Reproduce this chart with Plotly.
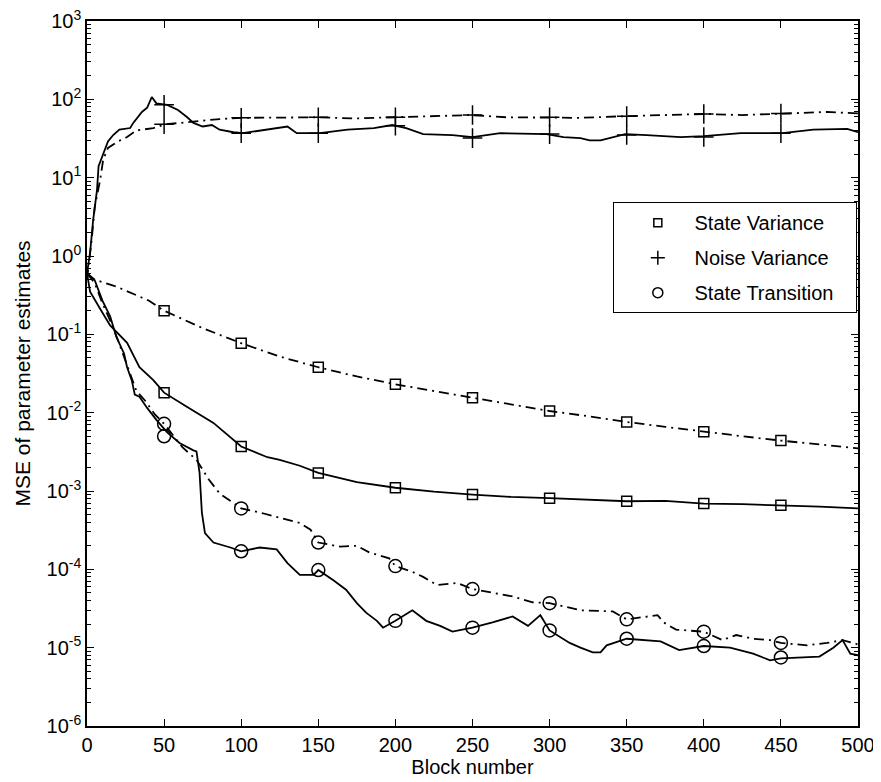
import plotly.graph_objects as go

# ---------------- data ----------------
# Noise variance, solid curve
nv_solid_x = [0, 2, 4, 6.5, 7.5, 10.5, 13.6, 17, 21, 28, 30, 35.6, 39, 42, 45, 52, 59, 65, 69, 75,
              81, 86, 95, 101, 117, 125, 130, 136, 151, 169, 186, 198, 207, 218, 237, 250, 268,
              298, 309, 320, 326, 333, 349, 363, 385, 400, 424, 451, 471, 493, 500]
nv_solid_y = [0.6, 1.1, 2.9, 7, 14, 20, 29, 35, 41, 43, 50, 69, 78, 107, 89, 85, 73, 59, 50, 45,
              47, 41, 38, 37, 41, 44, 45, 37, 37, 41, 43, 47, 43, 36, 35, 33, 37,
              36, 33, 32, 30, 30, 36, 35, 33, 34, 37, 37, 41, 42, 38]
# Noise variance, dash-dot curve
nv_dash_x = [0, 3, 5, 8.5, 10.5, 13.6, 20, 26, 32, 43, 51, 69, 86, 100, 125, 151, 173, 200, 227,
             249, 272, 299, 320, 349, 374, 400, 425, 450, 480, 500]
nv_dash_y = [0.5, 1.6, 4.2, 9.3, 17, 24, 29, 33, 40, 43, 48, 52, 56, 58, 58, 59, 57, 59, 61,
             63, 59, 59, 58, 61, 63, 65, 63, 66, 69, 66]

# State variance, dash-dot curve
sv_dash_x = [0, 5, 20, 40, 50, 75, 100, 125, 150, 175, 200, 225, 250, 275, 300, 325, 350, 375,
             400, 425, 450, 475, 500]
sv_dash_y = [0.6, 0.5, 0.4, 0.27, 0.2, 0.12, 0.077, 0.052, 0.038, 0.029, 0.023, 0.019, 0.0155,
             0.0127, 0.0105, 0.009, 0.0076, 0.0066, 0.0057, 0.005, 0.0044, 0.0039, 0.0035]
# State variance, solid curve
sv_solid_x = [0, 2, 8, 15, 26, 34, 43, 50, 65, 82, 100, 117, 125, 138, 150, 175, 200, 225, 250,
              275, 300, 325, 350, 375, 400, 425, 450, 475, 500]
sv_solid_y = [0.6, 0.35, 0.22, 0.13, 0.078, 0.038, 0.026, 0.018, 0.0118, 0.0074, 0.0037, 0.0027,
              0.0025, 0.0021, 0.0017, 0.0013, 0.0011, 0.00098, 0.0009, 0.00084, 0.00081,
              0.00077, 0.00074, 0.00075, 0.00069, 0.00068, 0.00066, 0.00063, 0.0006]

# State transition, solid curve
st_solid_x = [0, 5, 10, 15, 19, 24, 26, 29, 31, 34, 39, 45, 52, 60, 69, 71, 73, 74.5, 76.5, 82,
              93, 100, 112, 123, 130, 138, 147, 150, 160, 168, 175, 181, 188, 192, 200, 211, 220,
              229, 237, 250, 263, 276, 286, 294, 300, 313, 320, 328, 333, 337, 350, 372, 384,
              400, 417, 432, 443, 450, 475, 484, 490, 495, 500]
st_solid_y = [0.6, 0.49, 0.27, 0.17, 0.093, 0.057, 0.038, 0.026, 0.017, 0.016, 0.0115, 0.0081,
              0.0056, 0.0041, 0.0033, 0.0032, 0.0017, 0.00053, 0.00029, 0.00022, 0.00019,
              0.00017, 0.00019, 0.00018, 0.00012, 8.5e-5, 8.5e-5, 9.8e-5, 7.2e-5, 5.5e-5,
              3.7e-5, 2.8e-5, 2.2e-5, 1.8e-5, 2.2e-5, 3e-5, 2.2e-5, 1.9e-5, 1.6e-5, 1.8e-5,
              2.1e-5, 2.5e-5, 1.9e-5, 2.6e-5, 1.66e-5, 1.15e-5, 1.0e-5, 8.7e-6, 8.7e-6,
              1.07e-5, 1.3e-5, 1.2e-5, 9.3e-6, 1.05e-5, 1.0e-5, 8.4e-6, 6.9e-6, 7.3e-6,
              7.7e-6, 1.0e-5, 1.25e-5, 8.4e-6, 8e-6]
# State transition, dash-dot curve
st_dash_x = [0, 5, 10, 15, 20, 25, 28, 32, 38, 44, 50, 62, 71, 79, 86, 95, 100, 114, 127, 138,
             145, 150, 164, 175, 183, 196, 200, 211, 218, 227, 240, 250, 276, 289, 300, 313,
             320, 341, 350, 370, 374, 382, 400, 412, 421, 432, 443, 450, 467, 480, 490, 500]
st_dash_y = [0.6, 0.45, 0.25, 0.15, 0.085, 0.045, 0.03, 0.019, 0.014, 0.0095, 0.0072, 0.0036,
             0.0025, 0.0014, 0.00093, 0.0007, 0.0006, 0.00052, 0.00045, 0.00039, 0.00032,
             0.00022, 0.000195, 0.0002, 0.000165, 0.000138, 0.00011, 9.3e-5, 8e-5, 6.3e-5,
             6.7e-5, 5.6e-5, 4.5e-5, 3.8e-5, 3.7e-5, 3.2e-5, 3.0e-5, 2.9e-5, 2.3e-5, 2.6e-5,
             2.1e-5, 1.7e-5, 1.6e-5, 1.25e-5, 1.45e-5, 1.3e-5, 1.25e-5, 1.15e-5, 1.07e-5,
             1.15e-5, 1.25e-5, 1.1e-5]

# Marker positions (every 50 blocks)
marker_x = [50, 100, 150, 200, 250, 300, 350, 400, 450]
nv_solid_marks = [85, 37, 37, 46, 32, 36, 35, 33, 37]
nv_dash_marks = [48, 58, 59, 59, 63, 59, 61, 65, 66]
sv_dash_marks = [0.2, 0.077, 0.038, 0.023, 0.0155, 0.0105, 0.0076, 0.0057, 0.0044]
sv_solid_marks = [0.018, 0.0037, 0.0017, 0.0011, 0.0009, 0.00081, 0.00074, 0.00069, 0.00066]
st_solid_marks = [0.005, 0.00017, 9.8e-5, 2.2e-5, 1.8e-5, 1.66e-5, 1.3e-5, 1.05e-5, 7.5e-6]
st_dash_marks = [0.0072, 0.0006, 0.00022, 1.1e-4, 5.6e-5, 3.7e-5, 2.3e-5, 1.6e-5, 1.15e-5]

legend_names = ["State Variance", "Noise Variance", "State Transition"]
x_ticks = [0, 50, 100, 150, 200, 250, 300, 350, 400, 450, 500]
y_exps = [-6, -5, -4, -3, -2, -1, 0, 1, 2, 3]

# ---------------- figure ----------------
FONT = "Liberation Sans, Arial, Helvetica, sans-serif"
DASHDOT = "10px,5px,2px,5px"
fig = go.Figure()

def add_line(x, y, dash):
    fig.add_trace(go.Scatter(x=x, y=y, mode="lines", showlegend=False, hoverinfo="skip",
                             line=dict(color="black", width=1.8, dash=dash)))

def add_marks(y, symbol, size):
    fig.add_trace(go.Scatter(x=marker_x, y=y, mode="markers", showlegend=False, hoverinfo="skip",
                             marker=dict(symbol=symbol, size=size, color="black",
                                         line=dict(color="black", width=1.5))))

add_line(nv_dash_x, nv_dash_y, DASHDOT)
add_line(nv_solid_x, nv_solid_y, "solid")
add_line(sv_dash_x, sv_dash_y, DASHDOT)
add_line(sv_solid_x, sv_solid_y, "solid")
add_line(st_dash_x, st_dash_y, DASHDOT)
add_line(st_solid_x, st_solid_y, "solid")

add_marks(nv_dash_marks, "cross-thin-open", 14)
add_marks(nv_solid_marks, "cross-thin-open", 14)
add_marks(sv_dash_marks, "square-open", 10)
add_marks(sv_solid_marks, "square-open", 10)
add_marks(st_dash_marks, "circle-open", 13)
add_marks(st_solid_marks, "circle-open", 13)

# legend entries (marker only)
sym = ["square-open", "cross-thin-open", "circle-open"]
sz = [8, 10, 10]
NB = "\u00a0" * 3
NBT = "\u00a0" * 3
for i, name in enumerate(legend_names):
    fig.add_trace(go.Scatter(x=[None], y=[None], mode="markers", name=NB + name + NBT,
                             legendgroup=str(i),
                             marker=dict(symbol=sym[i], size=sz[i], color="black",
                                         line=dict(color="black", width=1.5))))

axis_common = dict(showline=True, linecolor="black", linewidth=1.5, mirror="ticks",
                   ticks="inside", ticklen=7, tickwidth=1.2, tickcolor="black",
                   showgrid=False, zeroline=False, automargin=False,
                   ticklabeloverflow="allow",
                   tickfont=dict(family=FONT, size=20, color="black"))

fig.update_xaxes(range=[0, 500], tickvals=x_ticks, ticktext=[str(v) for v in x_ticks],
                 title=dict(text="Block number", font=dict(family=FONT, size=20, color="black"),
                            standoff=0),
                 **axis_common)
fig.update_yaxes(type="log", range=[-6, 3],
                 tickvals=[10.0 ** e for e in y_exps],
                 ticktext=["10<sup>%d</sup>" % e for e in y_exps],
                 minor=dict(ticks="inside", ticklen=4, tickcolor="black", dtick="D1",
                            showgrid=False),
                 title=dict(text="MSE of parameter estimates",
                            font=dict(family=FONT, size=21, color="black"), standoff=10),
                 **axis_common)

# the page body adds an 8 px offset, so the margins are shifted by 8 px
fig.update_layout(
    width=881, height=782,
    margin=dict(l=79, r=31, t=13, b=64),
    paper_bgcolor="white", plot_bgcolor="white",
    font=dict(family=FONT, color="black"),
    legend=dict(x=0.682, y=0.743, xanchor="left", yanchor="top",
                bgcolor="white", bordercolor="black", borderwidth=1,
                font=dict(family=FONT, size=20, color="black"),
                tracegroupgap=6, traceorder="grouped", indentation=24),
)

fig.write_html("out.html")
